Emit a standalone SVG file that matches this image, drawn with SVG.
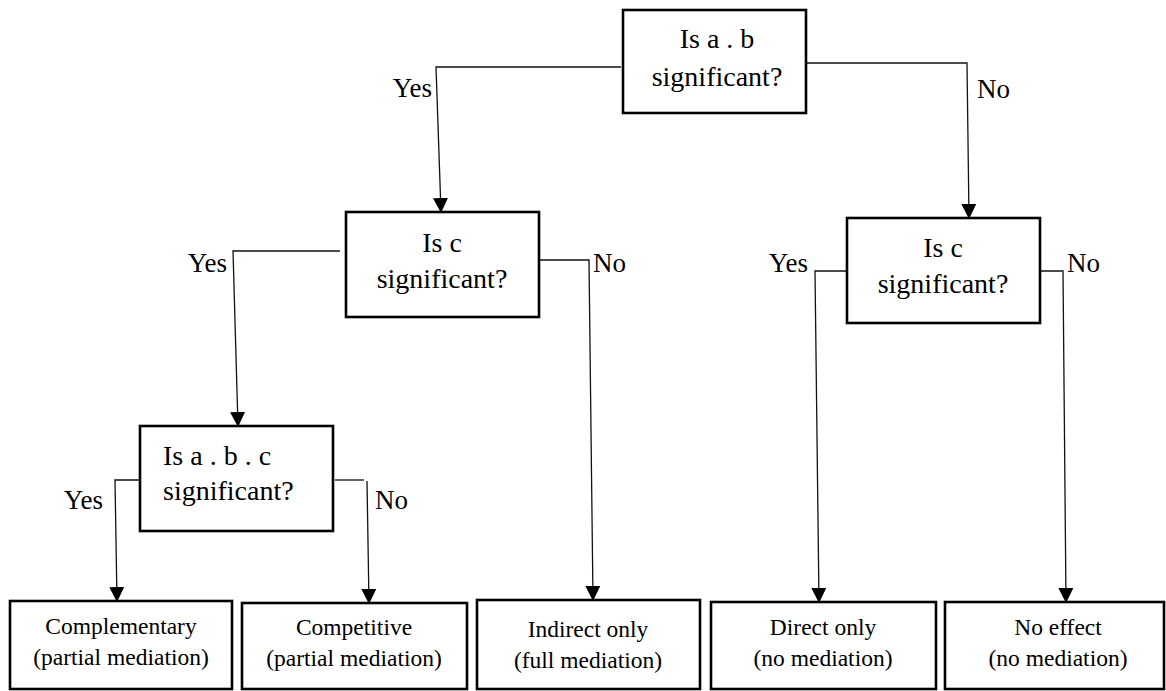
<svg xmlns="http://www.w3.org/2000/svg" width="1166" height="691" viewBox="0 0 1166 691" font-family="Liberation Serif, Times New Roman, serif">
  <style>
    .box { fill: #fff; stroke: #000; stroke-width: 2.6; }
    .q { font-size: 28px; }
    .r { font-size: 23.5px; text-anchor: middle; }
    .lbl { font-size: 27px; }
    .wire { fill: none; stroke: #111; stroke-width: 1.3; }
  </style>
  <defs>
    <marker id="head" markerWidth="15" markerHeight="15" refX="14" refY="7.5" orient="auto" markerUnits="userSpaceOnUse" viewBox="0 0 15 15">
      <path d="M0,0 L15,7.5 L0,15 Z" fill="#000"/>
    </marker>
  </defs>

  <!-- connectors -->
  <g id="connectors">
    <!-- a.b significant? -->
    <polyline class="wire" points="621,67 436,67 441,212" marker-end="url(#head)"/>
    <polyline class="wire" points="806,63 967,63 969,218" marker-end="url(#head)"/>
    <!-- c significant? (left) -->
    <polyline class="wire" points="340,251 233,251 238,426" marker-end="url(#head)"/>
    <polyline class="wire" points="539,260 589,260 593,600" marker-end="url(#head)"/>
    <!-- c significant? (right) -->
    <polyline class="wire" points="847,271 815,271 819,602" marker-end="url(#head)"/>
    <polyline class="wire" points="1040,271 1063,271 1066,602" marker-end="url(#head)"/>
    <!-- a.b.c significant? -->
    <polyline class="wire" points="140,480 115,480 117,601" marker-end="url(#head)"/>
    <polyline class="wire" points="335,480 364,480"/>
    <line class="wire" x1="367" y1="481" x2="369" y2="603" marker-end="url(#head)"/>

    <!-- branch labels -->
    <text class="lbl" x="432" y="97" text-anchor="end">Yes</text>
    <text class="lbl" x="977" y="98">No</text>
    <text class="lbl" x="227" y="272" text-anchor="end">Yes</text>
    <text class="lbl" x="593" y="272">No</text>
    <text class="lbl" x="808" y="272" text-anchor="end">Yes</text>
    <text class="lbl" x="1067" y="272">No</text>
    <text class="lbl" x="103" y="509" text-anchor="end">Yes</text>
    <text class="lbl" x="375" y="509">No</text>
  </g>

  <!-- decision nodes -->
  <g id="q-ab">
    <rect class="box" x="623" y="10" width="183" height="103"/>
    <text class="q" x="717" y="48" text-anchor="middle">Is a . b</text>
    <text class="q" x="717" y="86" text-anchor="middle">significant?</text>
  </g>
  <g id="q-c-left">
    <rect class="box" x="346" y="212" width="193" height="105"/>
    <text class="q" x="442" y="252" text-anchor="middle">Is c</text>
    <text class="q" x="442" y="288" text-anchor="middle">significant?</text>
  </g>
  <g id="q-c-right">
    <rect class="box" x="847" y="218" width="193" height="105"/>
    <text class="q" x="943" y="257" text-anchor="middle">Is c</text>
    <text class="q" x="943" y="293" text-anchor="middle">significant?</text>
  </g>
  <g id="q-abc">
    <rect class="box" x="140" y="426" width="193" height="105"/>
    <text class="q" x="163" y="465">Is a . b . c</text>
    <text class="q" x="163" y="500">significant?</text>
  </g>

  <!-- outcome nodes -->
  <g id="complementary">
    <rect class="box" x="10" y="601" width="222" height="88"/>
    <text class="r" x="121" y="634">Complementary</text>
    <text class="r" x="121" y="665">(partial mediation)</text>
  </g>
  <g id="competitive">
    <rect class="box" x="242" y="603" width="225" height="86"/>
    <text class="r" x="354" y="635">Competitive</text>
    <text class="r" x="354" y="666">(partial mediation)</text>
  </g>
  <g id="indirect-only">
    <rect class="box" x="477" y="600" width="223" height="89"/>
    <text class="r" x="588" y="637">Indirect only</text>
    <text class="r" x="588" y="668">(full mediation)</text>
  </g>
  <g id="direct-only">
    <rect class="box" x="711" y="602" width="225" height="87"/>
    <text class="r" x="823" y="635">Direct only</text>
    <text class="r" x="823" y="666">(no mediation)</text>
  </g>
  <g id="no-effect">
    <rect class="box" x="945" y="602" width="219" height="87"/>
    <text class="r" x="1058" y="635">No effect</text>
    <text class="r" x="1058" y="666">(no mediation)</text>
  </g>
</svg>
